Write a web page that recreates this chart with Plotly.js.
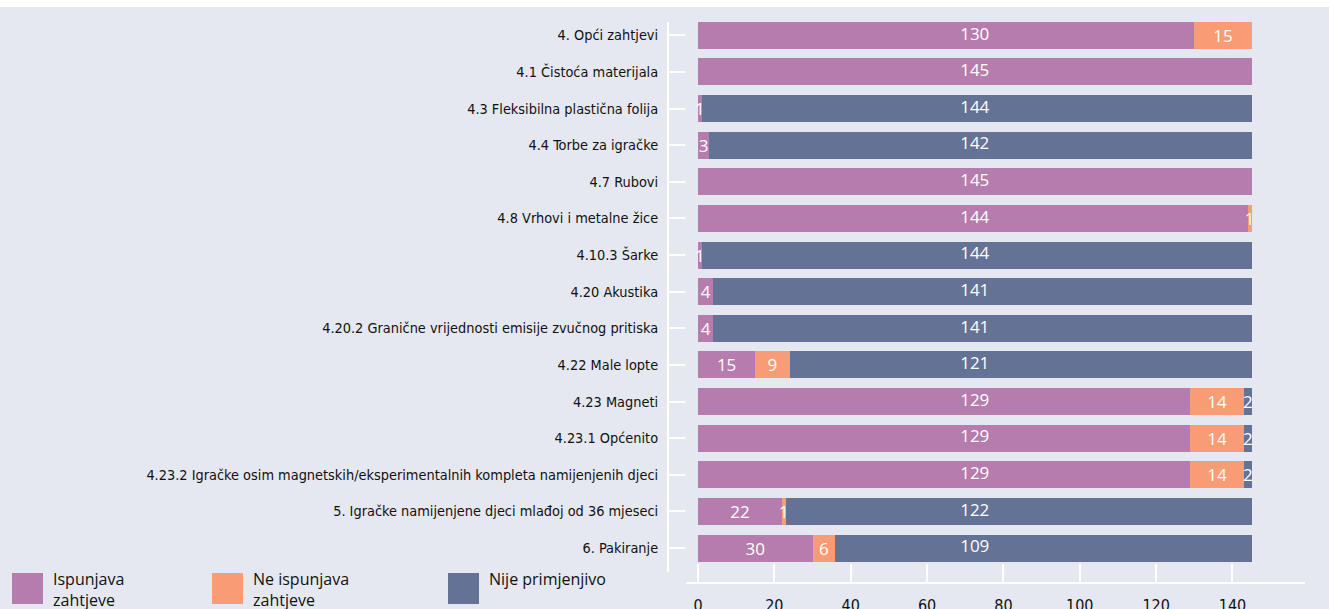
<!DOCTYPE html>
<html>
<head>
<meta charset="utf-8">
<script src="https://cdn.plot.ly/plotly-3.0.1.min.js"></script>
<style>
  html, body { margin: 0; padding: 0; background: #ffffff; }
  #chart { width: 1329px; height: 602px; margin-top: 7px; }
</style>
</head>
<body>
<div id="chart"></div>
<script>
// ---- data ----
var categories = [
  "4. Opći zahtjevi",
  "4.1 Čistoća materijala",
  "4.3 Fleksibilna plastična folija",
  "4.4 Torbe za igračke",
  "4.7 Rubovi",
  "4.8 Vrhovi i metalne žice",
  "4.10.3 Šarke",
  "4.20 Akustika",
  "4.20.2 Granične vrijednosti emisije zvučnog pritiska",
  "4.22 Male lopte",
  "4.23 Magneti",
  "4.23.1 Općenito",
  "4.23.2 Igračke osim magnetskih/eksperimentalnih kompleta namijenjenih djeci",
  "5. Igračke namijenjene djeci mlađoj od 36 mjeseci",
  "6. Pakiranje"
];
var ispunjava    = [130, 145, 1, 3, 145, 144, 1, 4, 4, 15, 129, 129, 129, 22, 30];
var neIspunjava  = [15,  0,   0, 0, 0,   1,   0, 0, 0, 9,  14,  14,  14,  1,  6];
var nijePrimj    = [0,   0, 144, 142, 0, 0, 144, 141, 141, 121, 2, 2, 2, 122, 109];
var seriesNames  = ["Ispunjava zahtjeve", "Ne ispunjava zahtjeve", "Nije primjenjivo"];
var xTicks       = [0, 20, 40, 60, 80, 100, 120, 140];

// ---- styling ----
var colors = ["#b67cae", "#f89c76", "#647296"];
var bg = "#e5e8f0";
var narrow = "Liberation Sans Narrow, DejaVu Sans Condensed, Arial Narrow, sans-serif";
var regular = "Open Sans, Noto Sans, sans-serif";

var W = 1329, H = 602;
var mL = 668, mR = 24, mT = 15, mB = 26;
var pw = W - mL - mR, ph = H - mT - mB;
function pxX(px) { return (px - mL) / pw; }
function pxY(pageY) { return (H - mB - (pageY - 7)) / ph; }

var series = [ispunjava, neIspunjava, nijePrimj];
var totals = categories.map(function (c, i) { return series.reduce(function (s, a) { return s + a[i]; }, 0); });
var maxIdx = categories.map(function (c, i) {
  var best = 0;
  for (var k = 1; k < series.length; k++) if (series[k][i] > series[best][i]) best = k;
  return best;
});

var traces = series.map(function (vals, k) {
  return {
    type: "bar",
    orientation: "h",
    name: seriesNames[k],
    y: categories,
    x: vals,
    marker: { color: colors[k], line: { width: 0 } },
    text: vals.map(function (v, i) { return (v > 0 && maxIdx[i] !== k) ? String(v) : ""; }),
    textposition: "inside",
    insidetextanchor: "middle",
    textangle: 0,
    textfont: { color: "#ffffff", size: 17, family: regular },
    hoverinfo: "x+name",
    showlegend: false
  };
});

// labels of the dominant segment are centred on the whole bar
traces.push({
  type: "scatter",
  mode: "text",
  y: categories,
  x: totals.map(function (t) { return t / 2; }),
  text: maxIdx.map(function (k, i) { return String(series[k][i]); }),
  textposition: "middle center",
  textfont: { color: "#ffffff", size: 17, family: regular },
  hoverinfo: "skip",
  showlegend: false,
  cliponaxis: false
});

// custom legend
var shapes = [], annotations = [];
var legX = [12, 212, 448];
function wrapName(s) {
  var parts = s.split(" ");
  if (parts[0] === "Nije") return s;
  var last = parts.pop();
  return parts.join(" ") + "<br>" + last;
}
seriesNames.forEach(function (n, k) {
  shapes.push({
    type: "rect", xref: "paper", yref: "paper",
    x0: pxX(legX[k]), x1: pxX(legX[k] + 31),
    y0: pxY(604), y1: pxY(573),
    fillcolor: colors[k], line: { width: 0 }, layer: "above"
  });
  annotations.push({
    xref: "paper", yref: "paper",
    x: pxX(legX[k] + 40), y: pxY(567),
    xanchor: "left", yanchor: "top", align: "left",
    text: wrapName(n),
    showarrow: false, borderpad: 0,
    font: { family: regular, size: 16, color: "#111111" }
  });
});

var layout = {
  width: W, height: H,
  paper_bgcolor: bg, plot_bgcolor: bg,
  margin: { l: mL, r: mR, t: mT, b: mB, pad: 0 },
  barmode: "stack",
  bargap: 0.263,
  showlegend: false,
  xaxis: {
    domain: [pxX(686), 1],
    range: [-3.14, 159.0],
    tickvals: xTicks,
    ticktext: xTicks.map(String),
    ticks: "inside", ticklen: 18, tickwidth: 2, tickcolor: "#ffffff",
    showline: true, linecolor: "#ffffff", linewidth: 2,
    showgrid: false, zeroline: false,
    tickfont: { family: narrow, size: 16, color: "#111111" },
    ticklabelstandoff: 8,
    anchor: "free", position: 0,
    fixedrange: true
  },
  yaxis: {
    type: "category",
    categoryorder: "array", categoryarray: categories,
    domain: [11 / ph, 1],
    range: [14.655, -0.363],
    ticks: "inside", ticklen: 16, tickwidth: 2, tickcolor: "#ffffff",
    showline: true, linecolor: "#ffffff", linewidth: 2,
    showgrid: false, zeroline: false,
    tickfont: { family: narrow, size: 14.4, color: "#111111" },
    ticklabelstandoff: 6,
    anchor: "free", position: 0,
    fixedrange: true
  },
  uniformtext: { minsize: 17, mode: "show" },
  shapes: shapes,
  annotations: annotations
};

Plotly.newPlot("chart", traces, layout, { displayModeBar: false, staticPlot: true });
</script>
</body>
</html>
